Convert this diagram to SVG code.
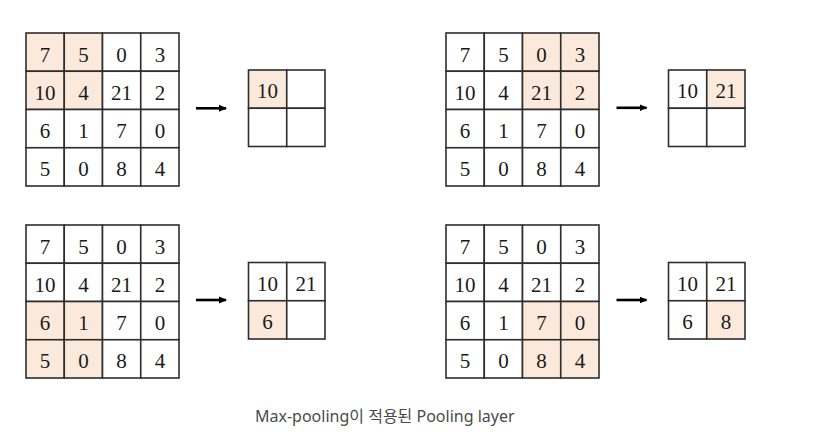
<svg xmlns="http://www.w3.org/2000/svg" width="818" height="445" viewBox="0 0 818 445">
<style>
.c{fill:#ffffff;stroke:#2e2e2e;stroke-width:1.6}
.h{fill:#fbeadb;stroke:#2e2e2e;stroke-width:1.6}
.n{font-family:'Liberation Serif','DejaVu Serif','Times New Roman',serif;font-size:21px;fill:#1a1a1a;text-anchor:middle}
.cap{font-family:'Noto Sans','Noto Sans CJK KR',sans-serif;font-size:16px;fill:#4a4a4a}
.ar{stroke:#000;stroke-width:2.6;fill:none}
</style>
<defs>
<marker id="ah" markerWidth="8" markerHeight="8" refX="7" refY="4" orient="auto" markerUnits="userSpaceOnUse">
<path d="M0,0.5 L8,4 L0,7.5 Z" fill="#000"/>
</marker>
</defs>
<rect width="818" height="445" fill="#fff"/>

<g id="in1">
<rect class="h" x="26" y="33" width="38.25" height="38.25"/><rect class="h" x="64.25" y="33" width="38.25" height="38.25"/><rect class="c" x="102.5" y="33" width="38.25" height="38.25"/><rect class="c" x="140.75" y="33" width="38.25" height="38.25"/>
<rect class="h" x="26" y="71.25" width="38.25" height="38.25"/><rect class="h" x="64.25" y="71.25" width="38.25" height="38.25"/><rect class="c" x="102.5" y="71.25" width="38.25" height="38.25"/><rect class="c" x="140.75" y="71.25" width="38.25" height="38.25"/>
<rect class="c" x="26" y="109.5" width="38.25" height="38.25"/><rect class="c" x="64.25" y="109.5" width="38.25" height="38.25"/><rect class="c" x="102.5" y="109.5" width="38.25" height="38.25"/><rect class="c" x="140.75" y="109.5" width="38.25" height="38.25"/>
<rect class="c" x="26" y="147.75" width="38.25" height="38.25"/><rect class="c" x="64.25" y="147.75" width="38.25" height="38.25"/><rect class="c" x="102.5" y="147.75" width="38.25" height="38.25"/><rect class="c" x="140.75" y="147.75" width="38.25" height="38.25"/>
<g font-family="Liberation Serif, serif" font-size="21">
<text class="n" x="45.1" y="61.5">7</text><text class="n" x="83.4" y="61.5">5</text><text class="n" x="121.6" y="61.5">0</text><text class="n" x="159.9" y="61.5">3</text>
<text class="n" x="45.1" y="99.8">10</text><text class="n" x="83.4" y="99.8">4</text><text class="n" x="121.6" y="99.8">21</text><text class="n" x="159.9" y="99.8">2</text>
<text class="n" x="45.1" y="138">6</text><text class="n" x="83.4" y="138">1</text><text class="n" x="121.6" y="138">7</text><text class="n" x="159.9" y="138">0</text>
<text class="n" x="45.1" y="176.3">5</text><text class="n" x="83.4" y="176.3">0</text><text class="n" x="121.6" y="176.3">8</text><text class="n" x="159.9" y="176.3">4</text>
</g>
</g>
<g id="out1">
<rect class="h" x="248.5" y="70" width="38.25" height="38.25"/><rect class="c" x="286.75" y="70" width="38.25" height="38.25"/>
<rect class="c" x="248.5" y="108.25" width="38.25" height="38.25"/><rect class="c" x="286.75" y="108.25" width="38.25" height="38.25"/>
<text class="n" x="267.6" y="98.4">10</text>
</g>

<g id="in2">
<rect class="c" x="446" y="33" width="38.25" height="38.25"/><rect class="c" x="484.25" y="33" width="38.25" height="38.25"/><rect class="h" x="522.5" y="33" width="38.25" height="38.25"/><rect class="h" x="560.75" y="33" width="38.25" height="38.25"/>
<rect class="c" x="446" y="71.25" width="38.25" height="38.25"/><rect class="c" x="484.25" y="71.25" width="38.25" height="38.25"/><rect class="h" x="522.5" y="71.25" width="38.25" height="38.25"/><rect class="h" x="560.75" y="71.25" width="38.25" height="38.25"/>
<rect class="c" x="446" y="109.5" width="38.25" height="38.25"/><rect class="c" x="484.25" y="109.5" width="38.25" height="38.25"/><rect class="c" x="522.5" y="109.5" width="38.25" height="38.25"/><rect class="c" x="560.75" y="109.5" width="38.25" height="38.25"/>
<rect class="c" x="446" y="147.75" width="38.25" height="38.25"/><rect class="c" x="484.25" y="147.75" width="38.25" height="38.25"/><rect class="c" x="522.5" y="147.75" width="38.25" height="38.25"/><rect class="c" x="560.75" y="147.75" width="38.25" height="38.25"/>
<text class="n" x="465.1" y="61.5">7</text><text class="n" x="503.4" y="61.5">5</text><text class="n" x="541.6" y="61.5">0</text><text class="n" x="579.9" y="61.5">3</text>
<text class="n" x="465.1" y="99.8">10</text><text class="n" x="503.4" y="99.8">4</text><text class="n" x="541.6" y="99.8">21</text><text class="n" x="579.9" y="99.8">2</text>
<text class="n" x="465.1" y="138">6</text><text class="n" x="503.4" y="138">1</text><text class="n" x="541.6" y="138">7</text><text class="n" x="579.9" y="138">0</text>
<text class="n" x="465.1" y="176.3">5</text><text class="n" x="503.4" y="176.3">0</text><text class="n" x="541.6" y="176.3">8</text><text class="n" x="579.9" y="176.3">4</text>
</g>
<g id="out2">
<rect class="c" x="668.5" y="70" width="38.25" height="38.25"/><rect class="h" x="706.75" y="70" width="38.25" height="38.25"/>
<rect class="c" x="668.5" y="108.25" width="38.25" height="38.25"/><rect class="c" x="706.75" y="108.25" width="38.25" height="38.25"/>
<text class="n" x="687.6" y="98.4">10</text><text class="n" x="725.9" y="98.4">21</text>
</g>

<g id="in3">
<rect class="c" x="26" y="225" width="38.25" height="38.25"/><rect class="c" x="64.25" y="225" width="38.25" height="38.25"/><rect class="c" x="102.5" y="225" width="38.25" height="38.25"/><rect class="c" x="140.75" y="225" width="38.25" height="38.25"/>
<rect class="c" x="26" y="263.25" width="38.25" height="38.25"/><rect class="c" x="64.25" y="263.25" width="38.25" height="38.25"/><rect class="c" x="102.5" y="263.25" width="38.25" height="38.25"/><rect class="c" x="140.75" y="263.25" width="38.25" height="38.25"/>
<rect class="h" x="26" y="301.5" width="38.25" height="38.25"/><rect class="h" x="64.25" y="301.5" width="38.25" height="38.25"/><rect class="c" x="102.5" y="301.5" width="38.25" height="38.25"/><rect class="c" x="140.75" y="301.5" width="38.25" height="38.25"/>
<rect class="h" x="26" y="339.75" width="38.25" height="38.25"/><rect class="h" x="64.25" y="339.75" width="38.25" height="38.25"/><rect class="c" x="102.5" y="339.75" width="38.25" height="38.25"/><rect class="c" x="140.75" y="339.75" width="38.25" height="38.25"/>
<text class="n" x="45.1" y="253.5">7</text><text class="n" x="83.4" y="253.5">5</text><text class="n" x="121.6" y="253.5">0</text><text class="n" x="159.9" y="253.5">3</text>
<text class="n" x="45.1" y="291.8">10</text><text class="n" x="83.4" y="291.8">4</text><text class="n" x="121.6" y="291.8">21</text><text class="n" x="159.9" y="291.8">2</text>
<text class="n" x="45.1" y="330">6</text><text class="n" x="83.4" y="330">1</text><text class="n" x="121.6" y="330">7</text><text class="n" x="159.9" y="330">0</text>
<text class="n" x="45.1" y="368.3">5</text><text class="n" x="83.4" y="368.3">0</text><text class="n" x="121.6" y="368.3">8</text><text class="n" x="159.9" y="368.3">4</text>
</g>
<g id="out3">
<rect class="c" x="248.5" y="262.5" width="38.25" height="38.25"/><rect class="c" x="286.75" y="262.5" width="38.25" height="38.25"/>
<rect class="h" x="248.5" y="300.75" width="38.25" height="38.25"/><rect class="c" x="286.75" y="300.75" width="38.25" height="38.25"/>
<text class="n" x="267.6" y="290.9">10</text><text class="n" x="305.9" y="290.9">21</text>
<text class="n" x="267.6" y="329.1">6</text>
</g>

<g id="in4">
<rect class="c" x="446" y="225" width="38.25" height="38.25"/><rect class="c" x="484.25" y="225" width="38.25" height="38.25"/><rect class="c" x="522.5" y="225" width="38.25" height="38.25"/><rect class="c" x="560.75" y="225" width="38.25" height="38.25"/>
<rect class="c" x="446" y="263.25" width="38.25" height="38.25"/><rect class="c" x="484.25" y="263.25" width="38.25" height="38.25"/><rect class="c" x="522.5" y="263.25" width="38.25" height="38.25"/><rect class="c" x="560.75" y="263.25" width="38.25" height="38.25"/>
<rect class="c" x="446" y="301.5" width="38.25" height="38.25"/><rect class="c" x="484.25" y="301.5" width="38.25" height="38.25"/><rect class="h" x="522.5" y="301.5" width="38.25" height="38.25"/><rect class="h" x="560.75" y="301.5" width="38.25" height="38.25"/>
<rect class="c" x="446" y="339.75" width="38.25" height="38.25"/><rect class="c" x="484.25" y="339.75" width="38.25" height="38.25"/><rect class="h" x="522.5" y="339.75" width="38.25" height="38.25"/><rect class="h" x="560.75" y="339.75" width="38.25" height="38.25"/>
<text class="n" x="465.1" y="253.5">7</text><text class="n" x="503.4" y="253.5">5</text><text class="n" x="541.6" y="253.5">0</text><text class="n" x="579.9" y="253.5">3</text>
<text class="n" x="465.1" y="291.8">10</text><text class="n" x="503.4" y="291.8">4</text><text class="n" x="541.6" y="291.8">21</text><text class="n" x="579.9" y="291.8">2</text>
<text class="n" x="465.1" y="330">6</text><text class="n" x="503.4" y="330">1</text><text class="n" x="541.6" y="330">7</text><text class="n" x="579.9" y="330">0</text>
<text class="n" x="465.1" y="368.3">5</text><text class="n" x="503.4" y="368.3">0</text><text class="n" x="541.6" y="368.3">8</text><text class="n" x="579.9" y="368.3">4</text>
</g>
<g id="out4">
<rect class="c" x="668.5" y="262.5" width="38.25" height="38.25"/><rect class="c" x="706.75" y="262.5" width="38.25" height="38.25"/>
<rect class="c" x="668.5" y="300.75" width="38.25" height="38.25"/><rect class="h" x="706.75" y="300.75" width="38.25" height="38.25"/>
<text class="n" x="687.6" y="290.9">10</text><text class="n" x="725.9" y="290.9">21</text>
<text class="n" x="687.6" y="329.1">6</text><text class="n" x="725.9" y="329.1">8</text>
</g>

<g id="connectors">
<line class="ar" x1="196" y1="108.3" x2="226" y2="108.3" marker-end="url(#ah)"/>
<line class="ar" x1="616.5" y1="107.8" x2="646.5" y2="107.8" marker-end="url(#ah)"/>
<line class="ar" x1="196" y1="300" x2="226" y2="300" marker-end="url(#ah)"/>
<line class="ar" x1="616.5" y1="300" x2="646.5" y2="300" marker-end="url(#ah)"/>
</g>

<text id="caption" class="cap" x="255" y="421.5">Max-pooling이 적용된 Pooling layer</text>
</svg>
